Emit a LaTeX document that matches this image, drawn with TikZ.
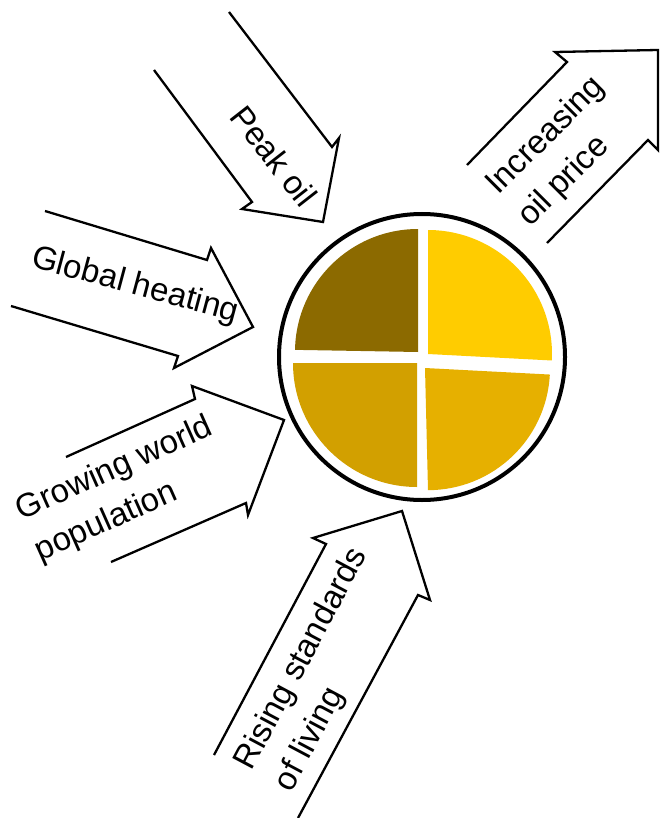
\documentclass[tikz,border=0pt]{standalone}
\usepackage{fontspec}
\setmainfont{Liberation Sans}
\begin{document}
\begin{tikzpicture}[x=1pt,y=-1pt,
  blockarrow/.style={draw=black, line width=2.3pt, line join=miter, miter limit=10},
  lbl/.style={font=\fontsize{33}{45}\selectfont, inner sep=0pt, align=left}]
\useasboundingbox (0,0) rectangle (661,818);
\definecolor{qtl}{RGB}{140,106,0}
\definecolor{qtr}{RGB}{255,204,0}
\definecolor{qbl}{RGB}{210,160,0}
\definecolor{qbr}{RGB}{230,176,0}

% pie quadrants (angles negated because the y axis points down)
\fill[qtl] (418,352) -- ++(-179:123) arc[start angle=-179, end angle=-90, radius=123] -- cycle;
\fill[qtr] (428,354) -- ++(-90:124) arc[start angle=-90, end angle=3, radius=124] -- cycle;
\fill[qbl] (417,363) -- ++(90:124) arc[start angle=90, end angle=180, radius=124] -- cycle;
\fill[qbr] (425,368) -- ++(3:125) arc[start angle=3, end angle=90, radius=122] -- cycle;
\node[circle, draw=black, line width=4pt, minimum size=286pt, inner sep=0pt] (pie) at (422,357) {};

% Peak oil
\coordinate (p1) at (229,12);  \coordinate (p2) at (332,147); \coordinate (p3) at (339,138);
\coordinate (p4) at (323,222); \coordinate (p5) at (242,209); \coordinate (p6) at (252,202);
\coordinate (p7) at (154,70);
\draw[blockarrow] (p1) -- (p2) -- (p3) -- (p4) -- (p5) -- (p6) -- (p7);
\node[lbl, rotate=-52] (tpeak) at (274,156) {Peak oil};

% Global heating
\coordinate (g1) at (45,211);  \coordinate (g2) at (207,260); \coordinate (g3) at (211,248);
\coordinate (g4) at (253,327); \coordinate (g5) at (174,368); \coordinate (g6) at (178,356);
\coordinate (g7) at (11,306);
\draw[blockarrow] (g1) -- (g2) -- (g3) -- (g4) -- (g5) -- (g6) -- (g7);
\node[lbl, rotate=-15] (theat) at (135,286) {Global heating};

% Growing world population
\coordinate (w1) at (66,457);  \coordinate (w2) at (195,399); \coordinate (w3) at (192,386);
\coordinate (w4) at (284,420); \coordinate (w5) at (248,515); \coordinate (w6) at (246,503);
\coordinate (w7) at (111,562);
\draw[blockarrow] (w1) -- (w2) -- (w3) -- (w4) -- (w5) -- (w6) -- (w7);
\node[lbl, rotate=24] (tgrow) at (124,490) {Growing world\\population};

% Rising standards of living
\coordinate (r1) at (214,755); \coordinate (r2) at (326,544); \coordinate (r3) at (313,538);
\coordinate (r4) at (402,511); \coordinate (r5) at (430,600); \coordinate (r6) at (418,595);
\coordinate (r7) at (298,818);
\draw[blockarrow] (r1) -- (r2) -- (r3) -- (r4) -- (r5) -- (r6) -- (r7);
\node[lbl, rotate=62] (trise) at (322,670) {Rising standards\\of living};

% Increasing oil price
\coordinate (i1) at (467,165); \coordinate (i2) at (567,62);  \coordinate (i3) at (555,52);
\coordinate (i4) at (658,50);  \coordinate (i5) at (658,150); \coordinate (i6) at (648,140);
\coordinate (i7) at (547,243);
\draw[blockarrow] (i1) -- (i2) -- (i3) -- (i4) -- (i5) -- (i6) -- (i7);
\node[lbl, rotate=45] (tinc) at (562,152) {Increasing\\oil price};
\end{tikzpicture}
\end{document}
